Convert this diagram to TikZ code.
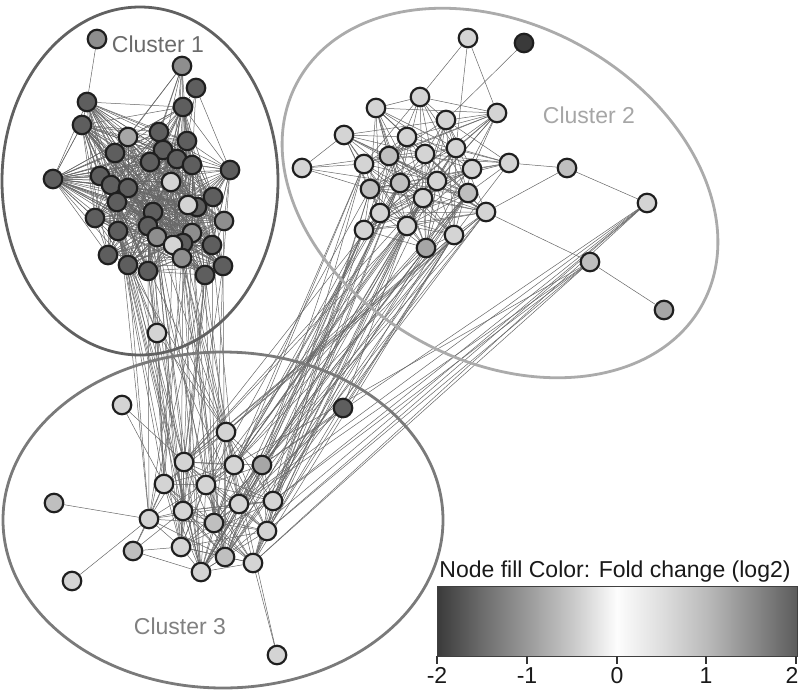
\documentclass[tikz,border=0pt]{standalone}
\usepackage{fontspec}
\setmainfont{Liberation Sans}
\pgfdeclarelayer{edges}
\pgfsetlayers{edges,main}
\definecolor{ndk}{HTML}{5E5E5E}
\definecolor{nmd}{HTML}{8E8E8E}
\definecolor{nml}{HTML}{A6A6A6}
\definecolor{nlm}{HTML}{BFBFBF}
\definecolor{nlt}{HTML}{D4D4D4}
\definecolor{nvd}{HTML}{3A3A3A}
\definecolor{lnkc}{HTML}{666666}
\definecolor{gA}{HTML}{3A3A3A}
\definecolor{gB}{HTML}{6C6C6C}
\definecolor{gC}{HTML}{999999}
\definecolor{gD}{HTML}{C8C8C8}
\definecolor{gW}{HTML}{FDFDFD}
\definecolor{gF}{HTML}{DEDEDE}
\definecolor{gG}{HTML}{BABABA}
\definecolor{gH}{HTML}{8C8C8C}
\definecolor{gI}{HTML}{5C5C5C}
\pgfdeclarehorizontalshading{foldc}{100bp}{color(0bp)=(gA); color(25bp)=(gA); color(31.25bp)=(gB); color(37.5bp)=(gC); color(43.75bp)=(gD); color(50bp)=(gW); color(56.25bp)=(gF); color(62.5bp)=(gG); color(68.75bp)=(gH); color(75bp)=(gI); color(100bp)=(gI)}
\begin{document}
\begin{tikzpicture}[x=1pt,y=-1pt,
  nd/.style={circle,draw=black!88,line width=2.2pt,minimum size=18.5pt,inner sep=0pt},
  sdk/.style={fill=ndk}, smd/.style={fill=nmd}, sml/.style={fill=nml},
  slm/.style={fill=nlm}, slt/.style={fill=nlt}, svd/.style={fill=nvd},
  lnk/.style={draw=lnkc,line width=0.5pt},
  ring/.style={line width=2.8pt},
  lbl/.style={font=\fontsize{23}{27}\selectfont,inner sep=0pt,anchor=base}]
\useasboundingbox (0,0) rectangle (800,691);
% cluster outlines
\draw[ring,draw=black!62] (140,181) ellipse [x radius=138pt, y radius=174pt];
\draw[ring,draw=black!33,rotate around={-29:(500,193)}] (500,193) ellipse [x radius=231pt, y radius=168pt];
\draw[ring,draw=black!52] (223,520) ellipse [x radius=220pt, y radius=168pt];
% labels
\node[lbl,text=black!58] (l1) at (158,52) {Cluster 1};
\node[lbl,text=black!35] (l2) at (589,123) {Cluster 2};
\node[lbl,text=black!50] (l3) at (180,634) {Cluster 3};
% cluster 1 nodes
\foreach \x/\y/\s [count=\k] in {97/39/smd, 182/66/smd, 196/88/sdk, 87/102/sdk, 183/107/sdk, 82/125/sdk, 128/137/sml, 159/132/sdk, 187/141/sdk, 115/153/sdk, 163/150/sdk, 150/162/sdk, 177/159/sdk, 192/165/sdk, 53/179/sdk, 230/170/sdk, 100/176/sdk, 111/185/sdk, 128/188/sdk, 171/182/slt, 117/202/sdk, 213/197/sdk, 197/207/sdk, 188/205/slt, 153/212/sdk, 95/218/sdk, 224/221/smd, 148/226/sdk, 118/231/sdk, 157/237/smd, 192/233/smd, 183/243/sdk, 173/245/slt, 212/245/sdk, 182/258/smd, 108/255/sdk, 128/265/sdk, 148/271/sdk, 223/266/sdk, 205/275/sdk, 157/333/slt}
  \node[nd,\s] (a\k) at (\x,\y) {};
% cluster 2 nodes
\foreach \x/\y/\s [count=\k] in {468/38/slt, 524/43/svd, 420/97/slt, 376/108/slt, 497/113/slt, 446/120/slt, 344/135/slt, 407/137/slt, 456/148/slt, 389/156/slm, 425/154/slt, 509/163/slt, 302/168/slt, 364/164/slt, 472/169/slt, 400/183/slm, 437/181/slt, 370/189/slm, 423/198/slt, 468/193/slm, 380/213/slt, 486/212/slt, 407/226/slt, 364/230/slt, 454/235/slt, 426/248/sml, 567/168/slm, 647/203/slt, 590/262/slm, 664/310/sml}
  \node[nd,\s] (b\k) at (\x,\y) {};
% cluster 3 nodes
\foreach \x/\y/\s [count=\k] in {122/405/slt, 226/432/slt, 184/462/slt, 234/465/slt, 262/465/sml, 164/484/slt, 206/485/slt, 239/504/slt, 273/501/slt, 183/511/slt, 149/519/slt, 214/523/slm, 267/531/slt, 54/503/slm, 133/551/slm, 181/547/slt, 225/557/slm, 253/563/slt, 201/572/slt, 72/581/slt, 277/655/slt}
  \node[nd,\s] (c\k) at (\x,\y) {};
\node[nd,sdk] (d) at (343,408) {};
% legend
\node[lbl,text=black!90] (lt) at (615,577) {Node fill Color: Fold change (log2)};
\shade[shading=foldc] (437,586) rectangle (797,656);
\draw[black!75,line width=0.8pt] (437,586) rectangle (797,656);
\foreach \x/\t [count=\k] in {437/-2, 527/-1, 617/0, 706/1}{
  \draw[black!80,line width=1.2pt] (\x,656) -- (\x,664);
  \node[lbl,text=black!90] (tk\k) at (\x,683) {\t};
}
\draw[black!80,line width=1.2pt] (796,656) -- (796,664);
\node[lbl,text=black!90] (tk5) at (792,683) {2};
% connectors
\begin{pgfonlayer}{edges}
\foreach \i in {4,...,40}{\foreach \j in {4,...,40}{%
  \ifnum\i<\j
    \pgfmathtruncatemacro\h{mod(mod(\i*\i,29)*\j+\j*\j*3+\i*7,29)}%
    \ifnum\h<21 \draw[lnk] (a\i) -- (a\j);\fi
  \fi}}
\foreach \j in {5,7,8,9,10,11,12,13,20} \draw[lnk] (a2) -- (a\j);
\foreach \j in {16,9,14,5} \draw[lnk] (a3) -- (a\j);
\foreach \j in {6,10,11,12,13,17,18,19,20,21,25,26,28} \draw[lnk] (a15) -- (a\j);
\draw[lnk] (a1) -- (a4);
\foreach \j in {28,29,37,38} \draw[lnk] (a41) -- (a\j);
\foreach \j in {2,3,6} \draw[lnk] (a41) -- (c\j);
\foreach \i in {3,4,5,6,7,8,9,10,11,12,14,15,16,17,18,19,20,21,22,23,24,25,26}{%
  \foreach \j in {3,4,5,6,7,8,9,10,11,12,14,15,16,17,18,19,20,21,22,23,24,25,26}{%
  \ifnum\i<\j
    \pgfmathtruncatemacro\h{mod(mod(\i*\i,29)*\j+\j*\j*5+\i*3,29)}%
    \ifnum\h<16 \draw[lnk] (b\i) -- (b\j);\fi
  \fi}}
\foreach \j in {3,5,9} \draw[lnk] (b1) -- (b\j);
\draw[lnk] (b2) -- (b6);
\foreach \j in {7,10,14,16,18} \draw[lnk] (b13) -- (b\j);
\foreach \j in {12,22,28} \draw[lnk] (b27) -- (b\j);
\foreach \j in {30,22} \draw[lnk] (b29) -- (b\j);
\foreach \i in {2,...,13,16,17,18,19}{\foreach \j in {2,...,13,16,17,18,19}{%
  \ifnum\i<\j
    \pgfmathtruncatemacro\h{mod(mod(\i*\i,29)*\j+\j*\j*3+\i*11,29)}%
    \ifnum\h<21 \draw[lnk] (c\i) -- (c\j);\fi
  \fi}}
\foreach \j in {3,6} \draw[lnk] (c1) -- (c\j);
\draw[lnk] (c14) -- (c11);
\draw[lnk] (c20) -- (c11);
\foreach \j in {18,4} \draw[lnk] (c21) -- (c\j);
\foreach \j in {6,10,11,16,19} \draw[lnk] (c15) -- (c\j);
\foreach \i in {21,25,28,29,30,31,32,33,34,35,37,38,39,40}{%
  \foreach \j in {2,3,4,6,7,8,10,11,12,16,17,19}{%
    \pgfmathtruncatemacro\h{mod(mod(\i*\i,29)*\j+\j*\j*5+\i*11,29)}%
    \ifnum\h<8 \draw[lnk] (a\i) -- (c\j);\fi}}
\foreach \i in {14,16,17,18,19,20,21,22,23,24,25,26}{%
  \foreach \j in {2,3,4,5,7,8,9,12,13,17,18,19}{%
    \pgfmathtruncatemacro\h{mod(mod(\i*\i,29)*\j+\j*\j*7+\i*13,29)}%
    \ifnum\h<11 \draw[lnk] (b\i) -- (c\j);\fi}}
\foreach \j in {5,8,9,13,17,18} \draw[lnk] (b28) -- (c\j);
\foreach \j in {4,9,12,13,18} \draw[lnk] (b29) -- (c\j);
\foreach \j in {23,25} \draw[lnk] (d) -- (b\j);
\foreach \j in {5,8} \draw[lnk] (d) -- (c\j);
\end{pgfonlayer}
\end{tikzpicture}
\end{document}
